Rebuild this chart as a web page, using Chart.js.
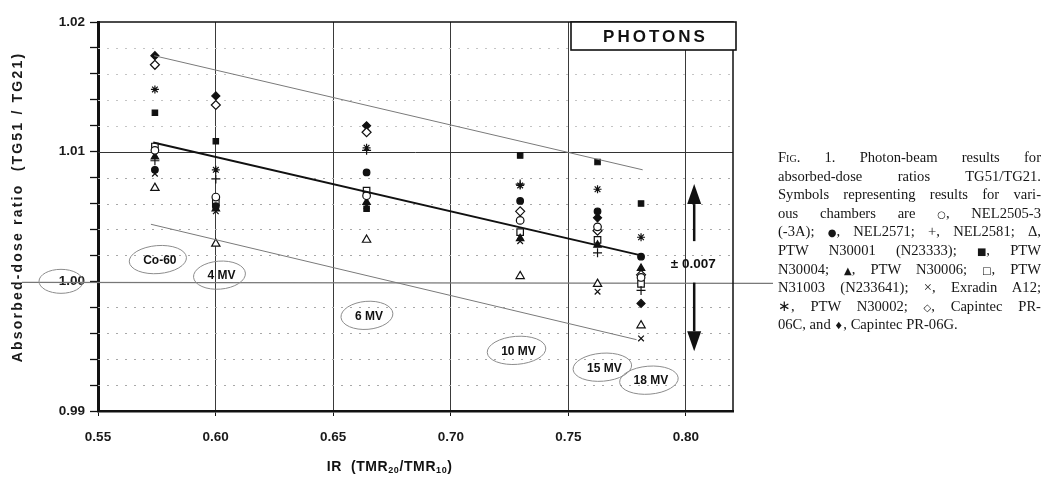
<!DOCTYPE html>
<html>
<head>
<meta charset="utf-8">
<script src="https://cdn.jsdelivr.net/npm/chart.js@4.4.0/dist/chart.umd.min.js"></script>
<style>
  body { margin: 0; background: #fff; }
  #wrap { position: relative; width: 1046px; height: 477px; }
  #caption {
    position: absolute; left: 778px; top: 148px; width: 263px;
    font-family: 'Liberation Serif', 'Times New Roman', serif;
    font-size: 14.6px; line-height: 18.6px; color: #161616;
  }
  #caption div { height: 18.6px; text-align: justify; text-align-last: justify; white-space: nowrap; }
  #caption div.last { text-align-last: left; }
  .sc { font-variant: small-caps; }
  .nb { display: inline-block; text-align-last: left; }
  .sym { font-family: 'DejaVu Sans', sans-serif; font-size: 10px; line-height: 1; }
</style>
</head>
<body>
<div id="wrap">
  <canvas id="photonChart" width="1046" height="477"></canvas>
  <div id="caption">
    <div><span class="sc">Fig</span>. 1. Photon-beam results for</div>
    <div>absorbed-dose ratios TG51/TG21.</div>
    <div>Symbols representing results for vari-</div>
    <div>ous chambers are <span class="nb"><span class="sym">○</span>,</span> NEL2505-3</div>
    <div>(-3A); <span class="nb"><span class="sym">●</span>,</span> NEL2571; +, NEL2581; <span class="nb">Δ,</span></div>
    <div>PTW N30001 (N23333); <span class="nb"><span class="sym">■</span>,</span> PTW</div>
    <div>N30004; <span class="nb"><span class="sym">▲</span>,</span> PTW N30006; <span class="nb"><span class="sym">□</span>,</span> PTW</div>
    <div>N31003 (N233641); <span class="nb">×,</span> Exradin A12;</div>
    <div><span class="nb">∗,</span> PTW N30002; <span class="nb"><span class="sym">◇</span>,</span> Capintec PR-</div>
    <div class="last">06C, and <span class="nb"><span class="sym">♦</span>,</span> Capintec PR-06G.</div>
  </div>
</div>
<script>
// beam qualities (ionization ratio TMR20/TMR10)
const beamNames = ['Co-60', '4 MV', '6 MV', '10 MV', '15 MV', '18 MV'];
const beamIR = [0.5742, 0.6001, 0.6642, 0.7295, 0.7624, 0.7809];

// absorbed-dose ratio TG51/TG21 per chamber, same order as beamIR
const nel2505 = [1.0101, 1.0065, 1.0066, 1.0047, 1.0042, 1.0003];
const nel2571 = [1.0086, 1.0058, 1.0084, 1.0062, 1.0054, 1.0019];
const nel2581 = [1.0093, 1.0079, 1.0101, 1.0075, 1.0022, 0.9993];
const ptwN30001 = [1.0072, 1.0029, 1.0032, 1.0004, 0.9998, 0.9966];
const ptwN30004 = [1.0130, 1.0108, 1.0056, 1.0097, 1.0092, 1.0060];
const ptwN30006 = [1.0096, 1.0056, 1.0061, 1.0033, 1.0028, 1.0010];
const ptwN31003 = [1.0104, 1.0061, 1.0070, 1.0038, 1.0032, 0.9998];
const exradinA12 = [1.0083, 1.0054, 1.0058, 1.0031, 0.9992, 0.9956];
const ptwN30002 = [1.0148, 1.0086, 1.0103, 1.0074, 1.0071, 1.0034];
const capPR06C = [1.0167, 1.0136, 1.0115, 1.0054, 1.0039, 1.0005];
const capPR06G = [1.0174, 1.0143, 1.0120, null, 1.0049, 0.9983];

// fitted line and +/- band
const fitX = [0.5735, 0.7809];
const fitY = [1.0107, 1.0020];
const upperX = [0.5739, 0.7816];
const upperY = [1.0174, 1.0086];
const lowerX = [0.5725, 0.7790];
const lowerY = [1.0044, 0.9955];

// axis ticks
const xTicks = [0.55, 0.60, 0.65, 0.70, 0.75, 0.80];
const yTicks = [0.99, 0.992, 0.994, 0.996, 0.998, 1.00, 1.002, 1.004, 1.006, 1.008,
                1.01, 1.012, 1.014, 1.016, 1.018, 1.02];

// where the beam tags and the tolerance arrow sit (data units)
const tagX = [0.5763, 0.6025, 0.6652, 0.7288, 0.7653, 0.7851];
const tagY = [1.0016, 1.0004, 0.9973, 0.9946, 0.9933, 0.9923];
const tolText = '± 0.007';
const tolX = 0.8035;
const tolUp = [1.0031, 1.0075];
const tolDown = [0.9999, 0.9946];

function pts(vals) {
    return vals.map((v, i) => (v === null ? null : { x: beamIR[i], y: v })).filter(p => p);
}
function marks(label, vals, style, filled, r) {
    return {
        label: label,
        data: pts(vals),
        showLine: false,
        pointStyle: style,
        pointRadius: r,
        pointBorderWidth: 1.2,
        pointBorderColor: '#111',
        pointBackgroundColor: filled ? '#111' : '#fff'
    };
}
function segment(label, xs, ys, w, color) {
    return {
        label: label,
        data: xs.map((x, i) => ({ x: x, y: ys[i] })),
        showLine: true,
        borderColor: color,
        borderWidth: w,
        pointRadius: 0
    };
}

const FONT = "'Liberation Sans', Arial, sans-serif";

function spaced(ctx, px) {
    if ('letterSpacing' in ctx) ctx.letterSpacing = px + 'px';
}

const overlay = {
    id: 'overlay',
    beforeDatasetsDraw(chart) {
        const { ctx, chartArea: a, scales: { x, y } } = chart;
        ctx.save();
        // horizontal grid
        yTicks.forEach(v => {
            const py = Math.round(y.getPixelForValue(v)) + 0.5;
            if (Math.abs(v - 1.01) < 1e-9) {
                ctx.setLineDash([]);
                ctx.strokeStyle = '#333';
                ctx.lineWidth = 1;
            } else if (Math.abs(v - 1.0) < 1e-9 || v < 0.991 || v > 1.019) {
                return;
            } else {
                ctx.setLineDash([2, 7]);
                ctx.strokeStyle = v > 1.0105 ? '#c4c4c4' : '#a8a8a8';
                ctx.lineWidth = 1;
            }
            ctx.beginPath();
            ctx.moveTo(a.left, py);
            ctx.lineTo(a.right, py);
            ctx.stroke();
        });
        // pencil line along 1.00, running past the frame
        ctx.setLineDash([]);
        ctx.strokeStyle = '#777';
        ctx.lineWidth = 1.4;
        const p1 = y.getPixelForValue(1.0) + 1;
        ctx.beginPath();
        ctx.moveTo(22, p1);
        ctx.lineTo(a.right + 40, p1 + 1);
        ctx.stroke();
        ctx.restore();
    },
    afterDatasetsDraw(chart) {
        const { ctx, chartArea: a, scales: { x, y } } = chart;
        ctx.save();
        // frame top and right
        ctx.strokeStyle = '#111';
        ctx.lineWidth = 1.5;
        ctx.beginPath();
        ctx.moveTo(a.left, a.top);
        ctx.lineTo(a.right, a.top);
        ctx.lineTo(a.right, a.bottom);
        ctx.stroke();

        // PHOTONS box
        const bx = a.right - 162, bw = 165, bh = 28;
        ctx.fillStyle = '#fff';
        ctx.fillRect(bx, a.top, bw, bh);
        ctx.lineWidth = 1.6;
        ctx.strokeRect(bx, a.top, bw, bh);
        ctx.fillStyle = '#111';
        ctx.font = 'bold 17px ' + FONT;
        ctx.textAlign = 'center';
        ctx.textBaseline = 'middle';
        spaced(ctx, 3);
        ctx.fillText('PHOTONS', bx + bw / 2 + 2, a.top + bh / 2 + 1);
        spaced(ctx, 0);

        // beam tags with hand-drawn rings
        ctx.font = 'bold 12px ' + FONT;
        beamNames.forEach((name, i) => {
            const cx = x.getPixelForValue(tagX[i]);
            const cy = y.getPixelForValue(tagY[i]);
            ctx.fillStyle = '#111';
            ctx.fillText(name, cx, cy);
            const w = ctx.measureText(name).width;
            ctx.strokeStyle = '#8c8c8c';
            ctx.lineWidth = 1;
            ctx.beginPath();
            ctx.ellipse(cx - 2, cy - 1, w / 2 + 12, 14, -0.08, 0, Math.PI * 2);
            ctx.stroke();
        });
        // ring round the 1.00 tick label
        ctx.beginPath();
        ctx.ellipse(a.left - 37, y.getPixelForValue(1.0), 22, 12, 0, 0, Math.PI * 2);
        ctx.stroke();

        // tolerance arrows
        const ax = x.getPixelForValue(tolX);
        function arrow(fromV, toV) {
            const y0 = y.getPixelForValue(fromV);
            const y1 = y.getPixelForValue(toV);
            const dir = y1 < y0 ? -1 : 1;
            const headLen = 20;
            ctx.strokeStyle = '#111';
            ctx.lineWidth = 2.5;
            ctx.beginPath();
            ctx.moveTo(ax, y0);
            ctx.lineTo(ax, y1 - dir * headLen);
            ctx.stroke();
            ctx.fillStyle = '#111';
            ctx.beginPath();
            ctx.moveTo(ax, y1);
            ctx.lineTo(ax - 7, y1 - dir * headLen);
            ctx.lineTo(ax + 7, y1 - dir * headLen);
            ctx.closePath();
            ctx.fill();
        }
        arrow(tolUp[0], tolUp[1]);
        arrow(tolDown[0], tolDown[1]);
        ctx.font = 'bold 13.5px ' + FONT;
        ctx.fillStyle = '#111';
        ctx.fillText(tolText, ax - 1, y.getPixelForValue((tolUp[0] + tolDown[0]) / 2) + 2);

        // x-axis title with subscripts
        const tx = x.getPixelForValue(0.674);
        const ty = 467;
        const parts = [['IR  (TMR', 0], ['20', 1], ['/TMR', 0], ['10', 1], [')', 0]];
        const big = 'bold 14px ' + FONT, small = 'bold 9px ' + FONT;
        spaced(ctx, 0.6);
        let total = 0;
        parts.forEach(p => { ctx.font = p[1] ? small : big; total += ctx.measureText(p[0]).width; });
        let cur = tx - total / 2;
        ctx.textAlign = 'left';
        parts.forEach(p => {
            ctx.font = p[1] ? small : big;
            ctx.fillText(p[0], cur, p[1] ? ty + 4 : ty);
            cur += ctx.measureText(p[0]).width;
        });

        // y-axis title
        ctx.save();
        ctx.translate(18, 207);
        ctx.rotate(-Math.PI / 2);
        ctx.textAlign = 'center';
        ctx.font = 'bold 14px ' + FONT;
        spaced(ctx, 2.2);
        ctx.fillStyle = '#1a1a1a';
        ctx.fillText('Absorbed-dose ratio  (TG51 / TG21)', 0, 0);
        ctx.restore();
        spaced(ctx, 0);
        ctx.restore();
    }
};

const ctx = document.getElementById('photonChart').getContext('2d');
new Chart(ctx, {
    type: 'scatter',
    data: {
        datasets: [
            segment('band high', upperX, upperY, 1, '#7a7a7a'),
            segment('band low', lowerX, lowerY, 1, '#7a7a7a'),
            segment('fit', fitX, fitY, 2, '#111'),
            marks('NEL2505-3', nel2505, 'circle', false, 3.8),
            marks('NEL2571', nel2571, 'circle', true, 3.3),
            marks('NEL2581', nel2581, 'cross', false, 4.5),
            marks('PTW N30001', ptwN30001, 'triangle', false, 4.8),
            marks('PTW N30004', ptwN30004, 'rect', true, 3.8),
            marks('PTW N30006', ptwN30006, 'triangle', true, 4.3),
            marks('PTW N31003', ptwN31003, 'rect', false, 4.6),
            marks('Exradin A12', exradinA12, 'crossRot', false, 4),
            marks('PTW N30002', ptwN30002, 'star', false, 4),
            marks('Capintec PR-06C', capPR06C, 'rectRot', false, 4.5),
            marks('Capintec PR-06G', capPR06G, 'rectRot', true, 4)
        ]
    },
    options: {
        responsive: false,
        animation: false,
        devicePixelRatio: 1,
        layout: { padding: { top: 22, right: 313, left: 0, bottom: 0 } },
        plugins: { legend: { display: false }, tooltip: { enabled: false } },
        scales: {
            x: {
                type: 'linear',
                min: 0.55,
                max: 0.82,
                afterBuildTicks: s => { s.ticks = xTicks.map(v => ({ value: v })); },
                afterFit: s => { s.height = 66; },
                grid: {
                    color: c => (c.tick && c.tick.value > 0.56 ? '#3a3a3a' : 'rgba(0,0,0,0)'),
                    lineWidth: 1,
                    tickLength: 5,
                    tickColor: '#111'
                },
                border: { color: '#111', width: 2.5 },
                ticks: {
                    padding: 13,
                    color: '#1a1a1a',
                    font: { family: FONT, size: 13.5, weight: 'bold' },
                    callback: v => v.toFixed(2)
                }
            },
            y: {
                type: 'linear',
                min: 0.99,
                max: 1.02,
                afterBuildTicks: s => { s.ticks = yTicks.map(v => ({ value: v })); },
                afterFit: s => { s.width = 98; },
                grid: {
                    drawOnChartArea: false,
                    tickLength: 8,
                    tickColor: '#111',
                    tickWidth: 1.3
                },
                border: { color: '#111', width: 3 },
                ticks: {
                    padding: 5,
                    color: '#1a1a1a',
                    font: { family: FONT, size: 13.5, weight: 'bold' },
                    callback: v => (Math.abs(v * 100 - Math.round(v * 100)) < 1e-6 ? v.toFixed(2) : '')
                }
            }
        }
    },
    plugins: [overlay]
});
</script>
</body>
</html>
